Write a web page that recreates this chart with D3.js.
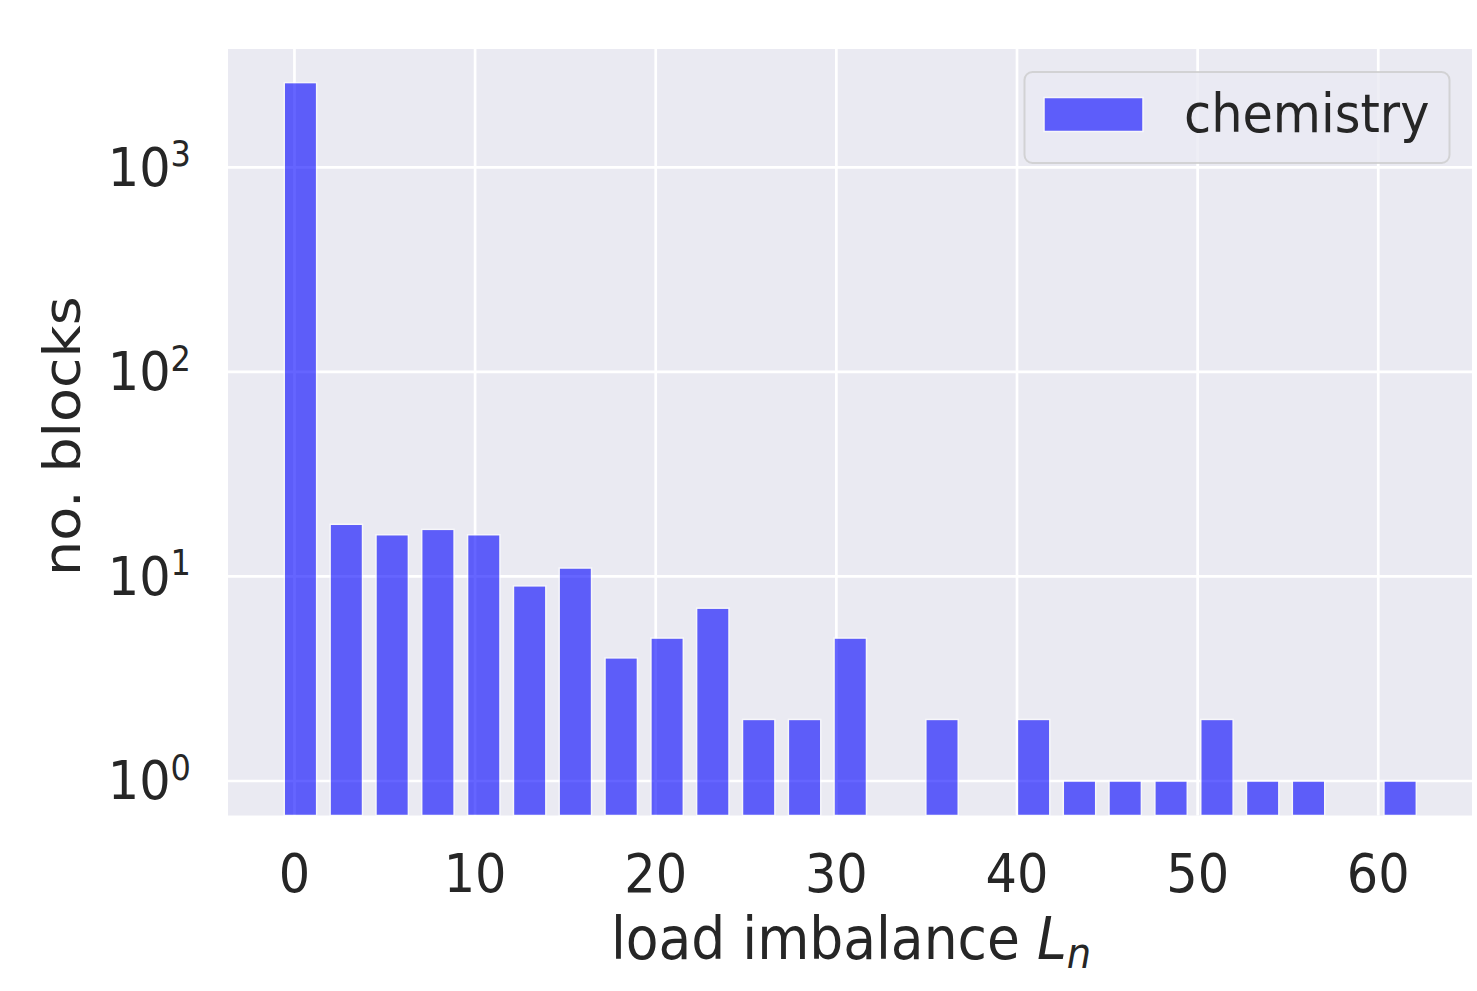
<!DOCTYPE html>
<html>
<head>
<meta charset="utf-8">
<script src="https://cdn.jsdelivr.net/npm/d3@7"></script>
<style>
  html, body { margin: 0; padding: 0; background: #ffffff; }
  svg { display: block; }
  text { font-family: "DejaVu Sans", sans-serif; fill: #262626; }
</style>
</head>
<body>
<svg id="chart" width="1477" height="991"></svg>
<script>
// ---- data ----
const binCenters = [0.33, 2.87, 5.41, 7.94, 10.48, 13.02, 15.55, 18.09, 20.63, 23.16,
                    25.70, 28.24, 30.77, 33.31, 35.85, 38.38, 40.92, 43.46, 45.99, 48.53,
                    51.07, 53.60, 56.14, 58.68, 61.21];
const counts = [2600, 18, 16, 17, 16, 9, 11, 4, 5, 7,
                2, 2, 5, 0, 2, 0, 2, 1, 1, 1,
                2, 1, 1, 0, 1];
const xTicks = [0, 10, 20, 30, 40, 50, 60];
const yTickExps = [0, 1, 2, 3];
const seriesName = "chemistry";
const xDomain = [-3.68, 65.19];
const yDomain = [0.678, 3795];

// ---- layout ----
const plot = { left: 228, right: 1472, top: 49, bottom: 815.5 };
const barWidth = 1.795; // data units
const sx = 0.915;       // horizontal squeeze of the reference's text
const svg = d3.select("#chart");

const x = d3.scaleLinear().domain(xDomain).range([plot.left, plot.right]);
const y = d3.scaleLog().domain(yDomain).range([plot.bottom, plot.top]);

// background
svg.append("rect")
  .attr("x", plot.left).attr("y", plot.top)
  .attr("width", plot.right - plot.left).attr("height", plot.bottom - plot.top)
  .attr("fill", "#eaeaf2");

// grid
const grid = svg.append("g");
grid.selectAll("line.vx").data(xTicks).join("line")
  .attr("x1", d => x(d)).attr("x2", d => x(d))
  .attr("y1", plot.top).attr("y2", plot.bottom)
  .attr("stroke", "#ffffff").attr("stroke-width", 2.7);
grid.selectAll("line.hy").data(yTickExps).join("line")
  .attr("y1", d => y(Math.pow(10, d))).attr("y2", d => y(Math.pow(10, d)))
  .attr("x1", plot.left).attr("x2", plot.right)
  .attr("stroke", "#ffffff").attr("stroke-width", 2.7);

// bars
const data = binCenters.map((c, i) => ({ c, v: counts[i] })).filter(d => d.v > 0);
svg.append("g").selectAll("rect").data(data).join("rect")
  .attr("x", d => x(d.c - barWidth / 2))
  .attr("width", d => x(d.c + barWidth / 2) - x(d.c - barWidth / 2))
  .attr("y", d => y(d.v))
  .attr("height", d => plot.bottom - y(d.v))
  .attr("fill", "#0000ff")
  .attr("stroke", "#ffffff")
  .attr("stroke-width", 1.5)
  .attr("opacity", 0.6);

// x tick labels
svg.append("g").selectAll("text").data(xTicks).join("text")
  .attr("transform", d => `translate(${x(d)},891.5) scale(${sx},1)`)
  .attr("text-anchor", "middle")
  .attr("font-size", 54)
  .text(d => d);

// y tick labels (10^n)
const yt = svg.append("g").selectAll("text").data(yTickExps).join("text")
  .attr("transform", d => `translate(191,${y(Math.pow(10, d)) + 18.5}) scale(${sx},1)`)
  .attr("text-anchor", "end")
  .attr("font-size", 54);
yt.append("tspan").text("10");
yt.append("tspan").attr("font-size", 35).attr("dy", -19.5).text(d => d);

// x axis label
const xl = svg.append("text")
  .attr("transform", `translate(${(plot.left + plot.right) / 2 + 1},959) scale(${sx},1)`)
  .attr("text-anchor", "middle")
  .attr("font-size", 58.5);
xl.append("tspan").text("load imbalance ");
xl.append("tspan").attr("font-style", "italic").text("L");
xl.append("tspan").attr("font-style", "italic").attr("font-size", 42).attr("dy", 8.5).text("n");

// y axis label
svg.append("text")
  .attr("transform", `translate(80,${(plot.top + plot.bottom) / 2 + 4}) scale(${sx},1) rotate(-90)`)
  .attr("text-anchor", "middle")
  .attr("font-size", 55.5)
  .text("no. blocks");

// legend
const lg = svg.append("g");
lg.append("rect")
  .attr("x", 1024.5).attr("y", 72).attr("width", 425).attr("height", 91)
  .attr("rx", 8).attr("ry", 8)
  .attr("fill", "#eaeaf2").attr("fill-opacity", 0.8)
  .attr("stroke", "#cccccc").attr("stroke-opacity", 0.8).attr("stroke-width", 2);
lg.append("rect")
  .attr("x", 1044).attr("y", 97.5).attr("width", 99).attr("height", 34)
  .attr("fill", "#0000ff").attr("stroke", "#ffffff").attr("stroke-width", 1.5)
  .attr("opacity", 0.6);
lg.append("text")
  .attr("transform", `translate(1184,131.5) scale(${sx},1)`)
  .attr("font-size", 54)
  .text(seriesName);
</script>
</body>
</html>
